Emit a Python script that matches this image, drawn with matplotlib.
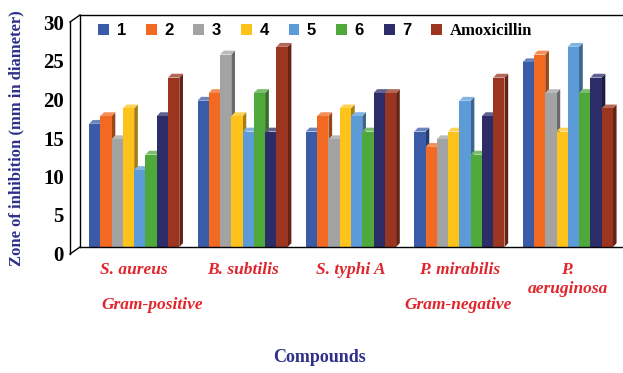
import matplotlib
import matplotlib.pyplot as plt
import matplotlib.colors as mcolors
from matplotlib.patches import Polygon
from matplotlib.lines import Line2D
from matplotlib.transforms import ScaledTranslation
import numpy as np

matplotlib.use('agg')

# inhibition zones (mm) per organism for compounds 1-7 and the reference drug
organisms = ["S. aureus", "B. subtilis", "S. typhi A", "P. mirabilis", "P.\naeruginosa"]
series_names = ["1", "2", "3", "4", "5", "6", "7", "Amoxicillin"]
c1 = [16, 19, 15, 15, 24]
c2 = [17, 20, 17, 13, 25]
c3 = [14, 25, 14, 14, 20]
c4 = [18, 17, 18, 15, 15]
c5 = [10, 15, 17, 19, 26]
c6 = [12, 20, 15, 12, 20]
c7 = [17, 15, 20, 17, 22]
amoxicillin = [22, 26, 20, 22, 18]
yticks = [0, 5, 10, 15, 20, 25, 30]

series = [c1, c2, c3, c4, c5, c6, c7, amoxicillin]
colors = ["#3a5ba8", "#f26a22", "#a3a3a3", "#fdc31a", "#5a9bd8",
          "#4fa83a", "#2b2c68", "#9b3520"]

W, H = 623, 373
fig = plt.figure(figsize=(W / 100, H / 100), dpi=100)
ax = fig.add_axes([80 / W, 1 - 247 / H, 542 / W, 231 / H])
ax.set_xlim(-0.5, 4.5)
ax.set_ylim(0, 30)
ax.axis('off')

bw = 0.104
dx, dy = 0.034, 0.5
x = np.arange(len(organisms))
offsets = (np.arange(8) - 3.5) * bw

z = 2
for j, (vals, col) in enumerate(zip(series, colors)):
    rgb = np.array(mcolors.to_rgb(col))
    dark = rgb * 0.65
    light = np.clip(rgb + (1 - rgb) * 0.25, 0, 1)
    for i, v in enumerate(vals):
        x0 = x[i] + offsets[j] - bw / 2
        x1 = x0 + bw
        side = Polygon([(x1, 0), (x1 + dx, dy), (x1 + dx, v + dy), (x1, v)],
                       closed=True, fc=dark, ec='none', zorder=z + i * 10 + j)
        top = Polygon([(x0, v), (x0 + dx, v + dy), (x1 + dx, v + dy), (x1, v)],
                      closed=True, fc=light, ec='none', zorder=z + i * 10 + j)
        ax.add_patch(side)
        ax.add_patch(top)
        ax.bar(x[i] + offsets[j], v, width=bw, color=col, zorder=z + i * 10 + j + 0.5)

# wall and floor outline
lc = dict(color='black', lw=1.0, transform=fig.transFigure, clip_on=False)
fig.add_artist(Line2D([80 / W, 1], [1 - 15 / H, 1 - 15 / H], **lc))
fig.add_artist(Line2D([80 / W, 80 / W], [1 - 15 / H, 1 - 247 / H], **lc))
fig.add_artist(Line2D([70 / W, 80 / W], [1 - 22 / H, 1 - 15 / H], **lc))
fig.add_artist(Line2D([70 / W, 70 / W], [1 - 22 / H, 1 - 254 / H], **lc))
fig.add_artist(Line2D([70 / W, 80 / W], [1 - 254 / H, 1 - 247 / H], **lc))
fig.add_artist(Line2D([80 / W, 1], [1 - 247 / H, 1 - 247 / H], **lc))

# y tick labels sit on the front edge of the wall
shift = ScaledTranslation(-0.16, -0.09, fig.dpi_scale_trans)
for t in yticks:
    ax.text(-0.5, t, str(t), ha='right', va='center', fontsize=15,
            fontweight='bold', family='Liberation Serif',
            transform=ax.transData + shift)

red = "#e0262c"
for i, name in enumerate(organisms):
    ax.text(x[i], -1.9, name, ha='center', va='top', fontsize=12.5,
            fontweight='bold', style='italic', family='Liberation Serif',
            color=red, linespacing=1.25)

fig.text(152 / W, 1 - 305 / H, "Gram-positive", ha='center', va='center',
         fontsize=12.5, fontweight='bold', style='italic',
         family='Liberation Serif', color=red)
fig.text(458 / W, 1 - 305 / H, "Gram-negative", ha='center', va='center',
         fontsize=12.5, fontweight='bold', style='italic',
         family='Liberation Serif', color=red)

navy = "#2e2f8a"
fig.text(320 / W, 1 - 357 / H, "Compounds", ha='center', va='center',
         fontsize=13, fontweight='bold', family='Liberation Serif', color=navy)
fig.text(16 / W, 1 - 138 / H, "Zone of inhibition (mm in diameter)",
         ha='center', va='center', rotation=90, fontsize=12,
         fontweight='bold', family='Liberation Serif', color=navy)

handles = [plt.Rectangle((0, 0), 1, 1, fc=c, ec='none') for c in colors]
leg = ax.legend(handles, series_names, loc='upper left', ncol=8, frameon=False,
                bbox_to_anchor=(0.012, 1.02), handlelength=0.65, handleheight=0.65,
                handletextpad=0.45, columnspacing=1.2, borderaxespad=0.3,
                prop={'weight': 'bold', 'size': 12, 'family': 'Liberation Sans'})
for txt in leg.get_texts():
    if txt.get_text() == "Amoxicillin":
        txt.set_family('Liberation Serif')
leg.set_zorder(200)

fig.savefig("out.png", dpi=100)
